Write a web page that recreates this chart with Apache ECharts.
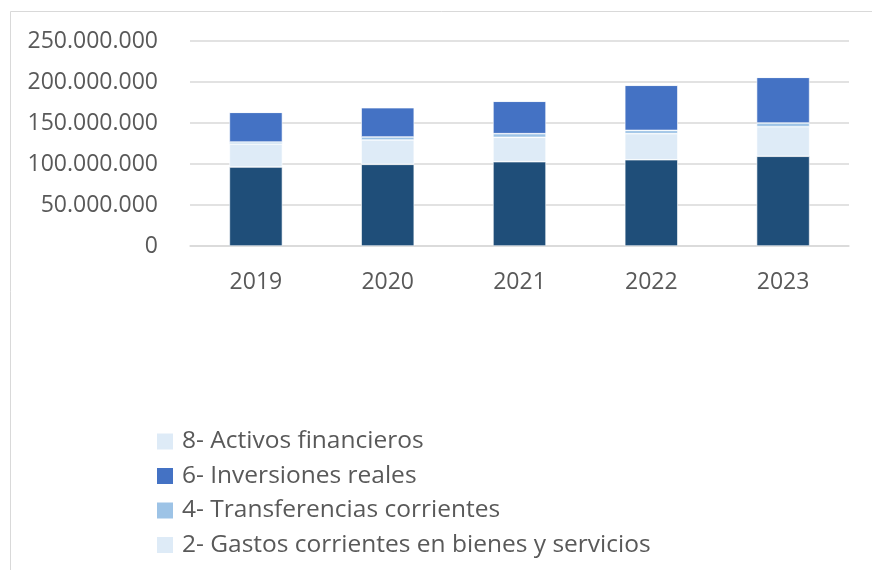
<!DOCTYPE html>
<html>
<head>
<meta charset="utf-8">
<script src="https://cdn.jsdelivr.net/npm/echarts@6/dist/echarts.min.js"></script>
<style>
html, body { margin: 0; padding: 0; background: #fff; }
#main { width: 872px; height: 570px; }
</style>
</head>
<body>
<div id="main"></div>
<script>
var years = ['2019', '2020', '2021', '2022', '2023'];
var personal = [96300000, 99600000, 102800000, 105200000, 109400000];
var bienes = [28100000, 29700000, 29700000, 31800000, 36100000];
var transferencias = [2400000, 3700000, 4500000, 4000000, 4500000];
var inversiones = [36200000, 35700000, 39500000, 55000000, 55700000];
var activos = [150000, 180000, 120000, 200000, 160000];
var yTicks = [0, 50000000, 100000000, 150000000, 200000000, 250000000];

var font = 'Open Sans';
var textGrey = '#595959';

// miles con punto
function fmt(v) {
	return String(v).replace(/\B(?=(\d{3})+(?!\d))/g, '.');
}

function barSerie(name, data, color) {
	return {
		name: name,
		type: 'bar',
		stack: 'total',
		barWidth: 53,
		data: data,
		itemStyle: { color: color, borderColor: '#ffffff', borderWidth: 0.6 },
		animation: false
	};
}

var myChart = echarts.init(document.getElementById('main'));

myChart.setOption({
	backgroundColor: '#ffffff',
	textStyle: { fontFamily: font },
	graphic: [{
		type: 'rect',
		shape: { x: 10.5, y: 11.5, width: 900, height: 600 },
		style: { fill: 'none', stroke: '#d9d9d9', lineWidth: 1 },
		silent: true
	}],
	grid: { left: 190, right: 23, top: 41, bottom: 324 },
	legend: {
		orient: 'vertical',
		left: 152,
		top: 424,
		width: 700,
		height: 300,
		itemWidth: 16,
		itemHeight: 16,
		itemGap: 9.5,
		icon: 'rect',
		itemStyle: { borderWidth: 0 },
		textStyle: { fontFamily: font, fontSize: 24.5, color: textGrey, padding: [0, 0, 0, 4] },
		data: ['8- Activos financieros', '6- Inversiones reales', '4- Transferencias corrientes', '2- Gastos corrientes en bienes y servicios']
	},
	xAxis: {
		type: 'category',
		data: years,
		axisLine: { lineStyle: { color: '#d9d9d9', width: 1.5 } },
		axisTick: { show: false },
		axisLabel: { fontFamily: font, fontSize: 23, color: textGrey, margin: 25 }
	},
	yAxis: {
		type: 'value',
		min: yTicks[0],
		max: yTicks[yTicks.length - 1],
		interval: yTicks[1] - yTicks[0],
		axisLine: { show: false },
		axisTick: { show: false },
		splitLine: { lineStyle: { color: '#d9d9d9', width: 1.5 } },
		axisLabel: { fontFamily: font, fontSize: 23, color: textGrey, margin: 32, formatter: fmt }
	},
	series: [
		barSerie('1- Gastos de personal', personal, '#1f4e79'),
		barSerie('2- Gastos corrientes en bienes y servicios', bienes, '#deebf7'),
		barSerie('4- Transferencias corrientes', transferencias, '#9dc3e6'),
		barSerie('6- Inversiones reales', inversiones, '#4472c4'),
		barSerie('8- Activos financieros', activos, '#deebf7')
	]
});
</script>
</body>
</html>
